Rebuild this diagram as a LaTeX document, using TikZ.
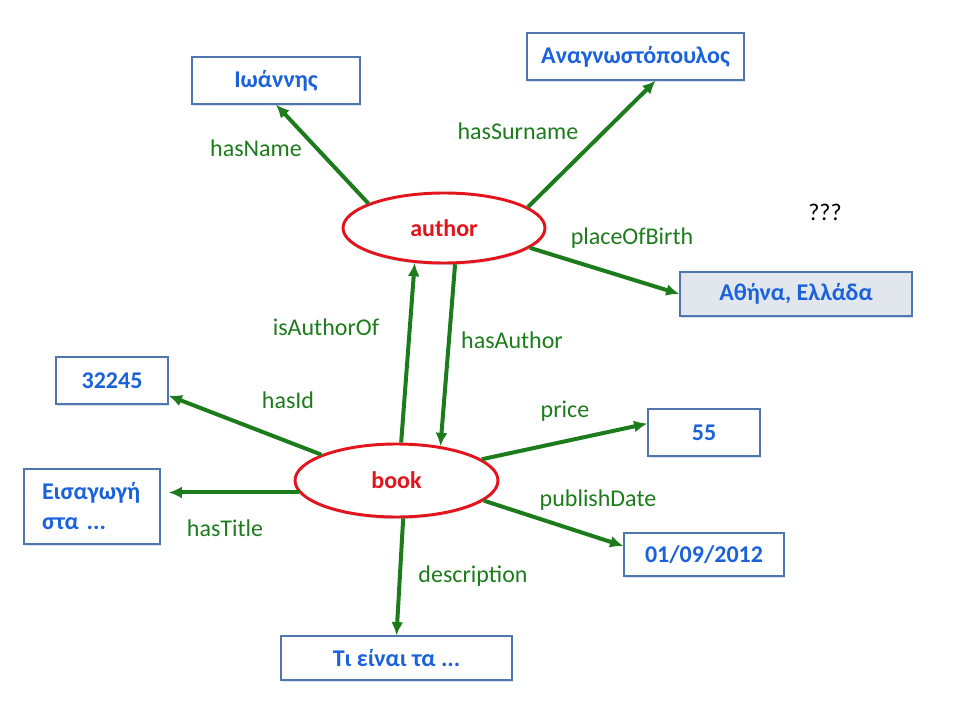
\documentclass[tikz,border=0pt]{standalone}
\usepackage{fontspec}
\setmainfont{Carlito}
\usepackage{tikz}
\usetikzlibrary{positioning, arrows, arrows.meta, shapes.geometric, shadows}

\definecolor{relgreen}{HTML}{1C7C1C}
\definecolor{valblue}{HTML}{1A62DC}
\definecolor{boxline}{HTML}{4F76AD}
\definecolor{boxshade}{HTML}{C9D6EA}
\definecolor{classred}{HTML}{E3141B}
\definecolor{litfill}{HTML}{E2E7EE}

\begin{document}
\begin{tikzpicture}[x=0.75pt, y=-0.75pt,
  every node/.style={font=\fontsize{18}{22.5}\selectfont},
  classnode/.style={ellipse, draw=classred, line width=2.2pt, fill=white,
    text=classred, font=\fontsize{18}{22.5}\selectfont\bfseries,
    drop shadow={shadow xshift=0.6pt, shadow yshift=-1.6pt, fill=boxshade, opacity=0.8}},
  valnode/.style={rectangle, draw=boxline, line width=0.9pt, fill=white,
    text=valblue, font=\fontsize{18}{22.5}\selectfont\bfseries,
    drop shadow={shadow xshift=0.6pt, shadow yshift=-1.6pt, fill=boxshade, opacity=0.8}},
  rellabel/.style={text=relgreen},
  rel/.style={draw=relgreen, line width=3pt, -{Latex[length=10pt, width=9pt]}}]
\useasboundingbox (0,0) rectangle (960,720);

% classes
\node[classnode, minimum width=151.5pt, minimum height=52.5pt] (author) at (444,228) {author};
\node[classnode, minimum width=152.25pt, minimum height=54.75pt] (book) at (396.5,480.5) {book};

% values
\node[valnode, minimum width=126pt, minimum height=35.25pt] (name) at (276,80.5) {Ιωάννης};
\node[valnode, minimum width=162.75pt, minimum height=35.25pt] (surname) at (635.5,56.5) {Αναγνωστόπουλος};
\node[valnode, fill=litfill, minimum width=174pt, minimum height=33pt] (birth) at (796,294) {Αθήνα, Ελλάδα};
\node[valnode, minimum width=84pt, minimum height=35.25pt] (id) at (112,380.5) {32245};
\node[valnode, text width=75pt, inner xsep=13.5pt, align=left, minimum height=56.25pt] (title) at (92,506.5) {Εισαγωγή\\στα ...};
\node[valnode, minimum width=84pt, minimum height=35.25pt] (price) at (704,432.5) {55};
\node[valnode, minimum width=120pt, minimum height=32.25pt] (date) at (704,554.5) {01/09/2012};
\node[valnode, minimum width=173.25pt, minimum height=33pt] (desc) at (396.5,658) {Τι είναι τα ...};

\node (q) at (825,212) {???};

% relations of author
\draw[rel] (author.162) -- (name.south);
\draw[rel] (author.14) -- (surname.310);
\draw[rel] (author.347) -- (birth.west);
\draw[rel] (book.83) -- (author.230);
\draw[rel] (author.287) -- (book.38);

% relations of book
\draw[rel] (book.161) -- (id.345);
\draw[rel, shorten >=6pt] (book.187) -- (book.187 -| title.east);
\draw[rel] (book.14) -- (price.171);
\draw[rel] (book.347) -- (date.174);
\draw[rel] (book.280) -- (desc.north);

% labels
\node[rellabel] (lname) at (256,148) {hasName};
\node[rellabel] (lsurname) at (518,131) {hasSurname};
\node[rellabel] (lbirth) at (632,238) {placeOfBirth};
\node[rellabel] (lisauthor) at (326,327) {isAuthorOf};
\node[rellabel] (lhasauthor) at (512,340) {hasAuthor};
\node[rellabel] (lid) at (288,400) {hasId};
\node[rellabel] (ltitle) at (225,528) {hasTitle};
\node[rellabel] (lprice) at (565,411) {price};
\node[rellabel] (ldate) at (598,500) {publishDate};
\node[rellabel] (ldesc) at (473,576) {description};
\end{tikzpicture}
\end{document}
